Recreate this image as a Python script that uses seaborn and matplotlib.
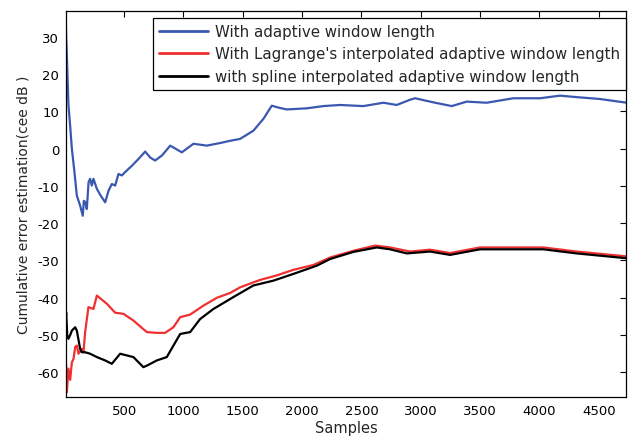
import numpy as np
import pandas as pd
import matplotlib
matplotlib.use("Agg")
import matplotlib.pyplot as plt
import seaborn as sns

# Cumulative error estimation curves (sample index, value in cee dB)
blue_x = [1, 11, 17, 30, 45, 59, 80, 101, 129, 151, 160, 171, 185, 200, 213, 227, 241,
          270, 300, 340, 368, 396, 424, 452, 480, 508, 565, 620, 677, 720, 761, 820,
          888, 986, 1084, 1196, 1309, 1393, 1477, 1589, 1674, 1744, 1800, 1870, 2039,
          2179, 2320, 2516, 2685, 2797, 2910, 2952, 3106, 3261, 3387, 3556, 3780,
          4005, 4173, 4314, 4511, 4736]
blue_y = [45, 30, 24.9, 12, 6, 0, -6, -12.6, -15.3, -18, -14, -14.3, -16.2, -9, -8.1,
          -9.9, -8.1, -10.8, -12.5, -14.4, -11.3, -9.5, -9.9, -6.8, -7.2, -6.3, -4.6,
          -2.8, -0.8, -2.4, -3.2, -1.8, 0.8, -1.0, 1.3, 0.8, 1.5, 2.1, 2.6, 4.8, 8.0,
          11.5, 11.0, 10.5, 10.8, 11.4, 11.7, 11.4, 12.3, 11.7, 13.1, 13.5, 12.4,
          11.4, 12.6, 12.3, 13.5, 13.5, 14.2, 13.8, 13.3, 12.3]

red_x = [1, 10, 17, 30, 45, 59, 73, 87, 101, 115, 143, 157, 171, 199, 241, 270, 354,
         424, 494, 578, 691, 775, 845, 915, 972, 1056, 1168, 1281, 1393, 1477, 1646,
         1786, 1926, 2095, 2236, 2432, 2615, 2741, 2910, 3078, 3247, 3499, 3752,
         4033, 4314, 4736]
red_y = [-66, -58, -65.3, -59, -62, -57.3, -56.4, -53.2, -52.8, -55, -53.7, -54.6,
         -49.2, -42.5, -43, -39.4, -41.6, -44, -44.3, -46.1, -49.2, -49.4, -49.4,
         -47.9, -45.2, -44.5, -42.1, -40.0, -38.7, -37.2, -35.2, -34.0, -32.5,
         -31.2, -29.2, -27.4, -26.0, -26.5, -27.6, -27.1, -28.0, -26.5, -26.5,
         -26.5, -27.6, -28.9]

black_x = [1, 8, 11, 20, 30, 45, 59, 87, 101, 129, 143, 171, 213, 270, 340, 396, 466,
           578, 662, 691, 775, 859, 972, 1056, 1140, 1252, 1421, 1589, 1758, 1926,
           2123, 2236, 2432, 2629, 2741, 2882, 3078, 3247, 3499, 3752, 4033, 4314,
           4736]
black_y = [-56, -46, -43.9, -50, -51, -50, -48.8, -47.9, -48.8, -53.7, -54.6, -54.6,
           -55, -55.9, -56.8, -57.7, -55, -55.9, -58.6, -58.2, -56.8, -55.9, -49.7,
           -49.2, -45.7, -43, -39.8, -36.7, -35.4, -33.6, -31.4, -29.6, -27.7,
           -26.5, -27.0, -28.1, -27.6, -28.5, -27.0, -27.0, -27.0, -28.1, -29.4]

labels = ["With adaptive window length",
          "With Lagrange's interpolated adaptive window length",
          "with spline interpolated adaptive window length"]
colors = ["#3a58b0", "#f03030", "#000000"]

frames = []
for xs, ys, lab in zip([blue_x, red_x, black_x], [blue_y, red_y, black_y], labels):
    frames.append(pd.DataFrame({"Samples": xs, "cee": ys, "series": lab}))
df = pd.concat(frames, ignore_index=True)

sns.set_style("white")
plt.rcParams["font.family"] = ["DejaVu Sans"]
plt.rcParams["axes.unicode_minus"] = False

fig = plt.figure(figsize=(6.30, 4.39), dpi=100)
ax = fig.add_axes([0.105, 0.0934, 0.8887, 0.8793])

sns.lineplot(data=df, x="Samples", y="cee", hue="series", hue_order=labels,
             palette=colors, sort=False, estimator=None, linewidth=1.6, ax=ax)

ax.set_xlim(11, 4730)
ax.set_ylim(-66.6, 36.9)
ax.set_xticks([500, 1000, 1500, 2000, 2500, 3000, 3500, 4000, 4500])
ax.set_yticks([-60, -50, -40, -30, -20, -10, 0, 10, 20, 30])
ax.tick_params(direction="in", length=4, width=0.8, top=True, right=True,
               labelsize=9.5, colors="black", pad=5)
for s in ax.spines.values():
    s.set_color("black")
    s.set_linewidth(0.9)

ax.set_xlabel("Samples", fontsize=10.5, labelpad=2)
ax.set_ylabel("Cumulative error estimation(cee dB )", fontsize=10, labelpad=5)

leg = ax.legend(loc="upper right", bbox_to_anchor=(1.0, 0.982), fontsize=10.8,
                frameon=True, fancybox=False, framealpha=1, edgecolor="black",
                handlelength=3.3, handletextpad=0.45, borderpad=0.4,
                labelspacing=0.5, borderaxespad=0.0)
leg.get_frame().set_linewidth(0.9)
for line in leg.get_lines():
    line.set_linewidth(2.0)

fig.savefig("out.png", dpi=100)
